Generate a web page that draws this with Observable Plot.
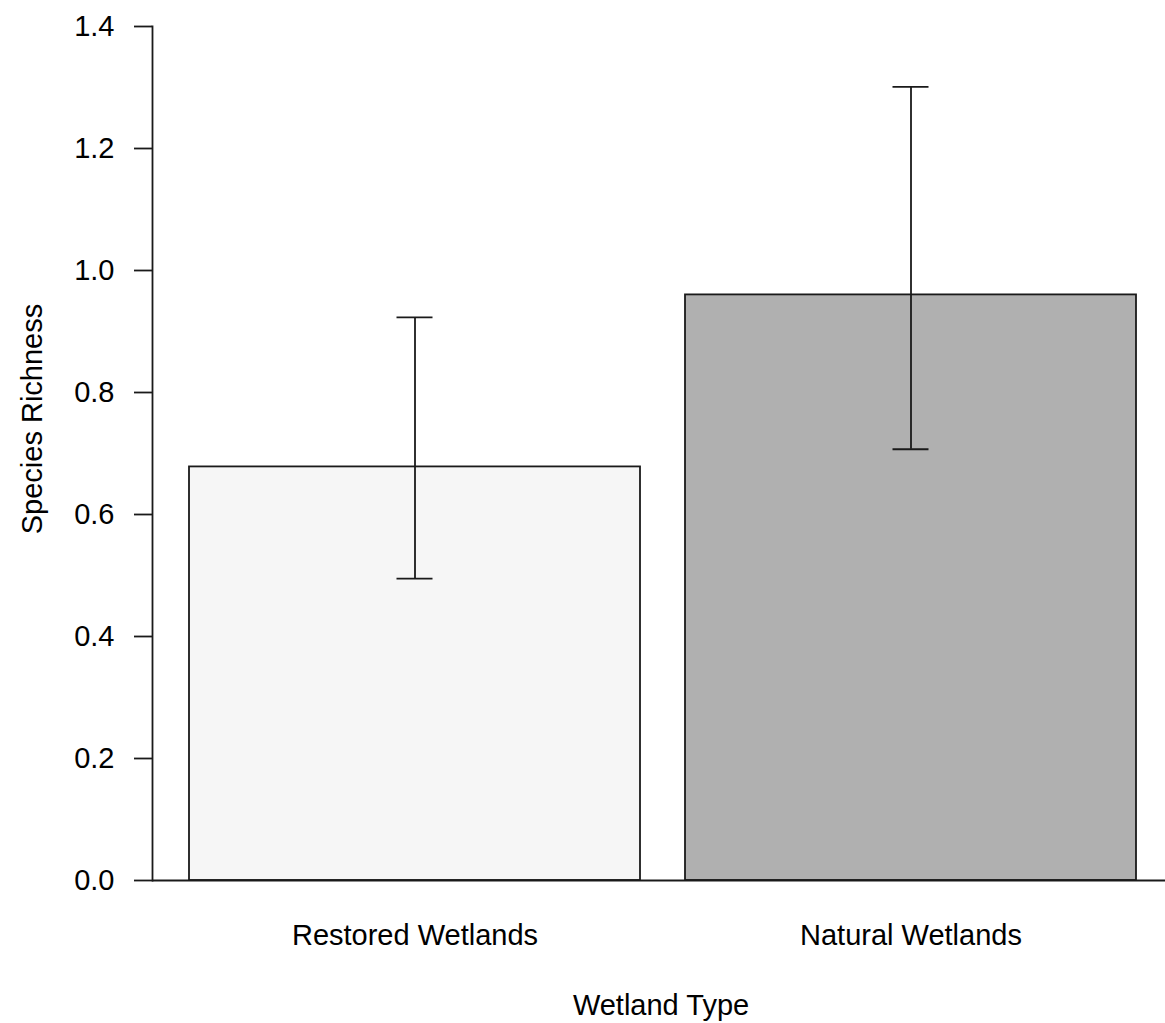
<!DOCTYPE html>
<html>
<head>
<meta charset="utf-8">
<script src="https://cdn.jsdelivr.net/npm/d3@7"></script>
<script src="https://cdn.jsdelivr.net/npm/@observablehq/plot@0.6"></script>
<style>
  html, body { margin: 0; padding: 0; background: #fff; }
  #chart svg { display: block; }
</style>
</head>
<body>
<div id="chart"></div>
<script>
const categories = ["Restored Wetlands", "Natural Wetlands"];
const means = [0.678, 0.960];
const lower = [0.495, 0.707];
const upper = [0.923, 1.301];
const yTicks = [0, 0.2, 0.4, 0.6, 0.8, 1.0, 1.2, 1.4];
const xTitle = "Wetland Type";
const yTitle = "Species Richness";

const data = categories.map((c, i) => ({ cat: c, mean: means[i], lo: lower[i], hi: upper[i] }));

const ink = "#1a1a1a";
const plot = Plot.plot({
  width: 1165,
  height: 1023,
  marginTop: 26,
  marginBottom: 143,
  marginLeft: 152,
  marginRight: 0,
  style: { fontFamily: "'Liberation Sans', Arial, sans-serif", fontSize: "29px", color: "#000", background: "#fff" },
  x: { domain: categories, range: [189, 1137], paddingInner: 0.0905, paddingOuter: 0 },
  y: { domain: [0, 1.4] },
  color: { domain: categories, range: ["#f6f6f6", "#b0b0b0"] },
  marks: [
    Plot.barY(data, { x: "cat", y: "mean", fill: "cat", stroke: ink, strokeWidth: 1.8 }),
    Plot.ruleX(data, { x: "cat", y1: "lo", y2: "hi", stroke: ink, strokeWidth: 1.8 }),
    Plot.tickY(data, { x: "cat", y: "lo", stroke: ink, strokeWidth: 1.8, inset: 207.5 }),
    Plot.tickY(data, { x: "cat", y: "hi", stroke: ink, strokeWidth: 1.8, inset: 207.5 }),
    Plot.ruleY([0], { stroke: ink, strokeWidth: 1.8 }),
    Plot.frame({ anchor: "left", stroke: ink, strokeWidth: 1.8 }),
    Plot.axisY({ ticks: yTicks, tickFormat: d3.format(".1f"), tickSize: 18, tickPadding: 20, strokeWidth: 1.8, stroke: ink, label: null, fontSize: 29 }),
    Plot.axisX({ tickSize: 0, tickPadding: 44, label: null, fontSize: 29 }),
    Plot.text([xTitle], { text: d => d, frameAnchor: "bottom", textAnchor: "middle", lineAnchor: "middle", dy: 125, dx: 2, fontSize: 29 }),
    Plot.text([yTitle], { text: d => d, frameAnchor: "left", textAnchor: "middle", lineAnchor: "middle", rotate: -90, dx: -120, dy: -34.5, fontSize: 29 })
  ]
});
document.getElementById("chart").appendChild(plot);
</script>
</body>
</html>
